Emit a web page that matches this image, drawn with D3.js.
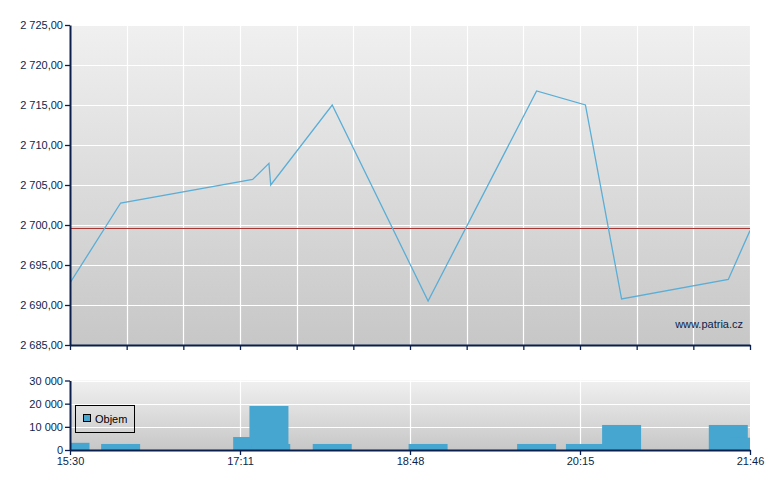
<!DOCTYPE html>
<html><head><meta charset="utf-8">
<script src="https://cdn.jsdelivr.net/npm/d3@7"></script>
<style>
body{margin:0;background:#fff;}
svg{display:block;font-family:Arial,"Liberation Sans",sans-serif;}
</style></head>
<body><svg id="c" width="780" height="490"></svg>
<script>
const times = ["15:30","15:58","17:11","17:20","17:21","17:55","18:48","19:48","20:15","20:35","21:34","21:46"];
const prices = [2692.75, 2702.75, 2705.7, 2707.7, 2705.0, 2715.0, 2690.5, 2716.75, 2715.0, 2690.75, 2693.2, 2699.3];
const volumes = [3100, 2600, 5600, 19000, 2600, 2600, 2600, 2600, 2600, 10800, 10800, 5300];
const refPrice = 2699.5;
const priceTicks = [2685,2690,2695,2700,2705,2710,2715,2720,2725];
const volumeTicks = [0,10000,20000,30000];
const xLabels = ["15:30","17:11","18:48","20:15","21:46"];
const xLabelSlots = [0,3,6,9,12];
const gridSlots = d3.range(0,13);

const toMin = s => { const [h,m] = s.split(":").map(Number); return h*60+m; };
const loc = d3.formatLocale({decimal:",", thousands:"\u00a0", grouping:[3], currency:["",""]});
const fPrice = loc.format(",.2f");
const fVol = loc.format(",d");

const svg = d3.select("#c");
const L = 70, R = 750;
const mainTop = 25, mainBot = 345, volTop = 380.5, volBot = 450;
const navy = "#0b1f4d";

const xT = d3.scaleLinear().domain([toMin(times[0]), toMin(times[times.length-1])]).range([L,R]);
const xG = d3.scaleLinear().domain([0,12]).range([L,R]);
const y = d3.scaleLinear().domain([2685,2725]).range([mainBot,mainTop]);
const yv = d3.scaleLinear().domain([0,30000]).range([volBot,volTop]);

const defs = svg.append("defs");
const g1 = defs.append("linearGradient").attr("id","bg").attr("x1",0).attr("y1",0).attr("x2",0).attr("y2",1);
g1.append("stop").attr("offset","0%").attr("stop-color","#f0f0f0");
g1.append("stop").attr("offset","100%").attr("stop-color","#c7c7c7");
defs.append("clipPath").attr("id","clipMain").append("rect").attr("x",L).attr("y",mainTop).attr("width",R-L).attr("height",mainBot-mainTop);
defs.append("clipPath").attr("id","clipVol").append("rect").attr("x",L).attr("y",volTop).attr("width",R-L).attr("height",volBot-volTop);

// ---------- Main panel ----------
svg.append("rect").attr("x",L).attr("y",mainTop).attr("width",R-L).attr("height",mainBot-mainTop).attr("fill","url(#bg)");
const gm = svg.append("g");
gm.selectAll(".hg").data(priceTicks.filter(v=>v>2685)).join("line")
  .attr("x1",L).attr("x2",R).attr("y1",d=>Math.round(y(d))+0.5).attr("y2",d=>Math.round(y(d))+0.5)
  .attr("stroke","#fff").attr("stroke-width",1.2);
gm.selectAll(".vg").data(gridSlots.slice(1)).join("line")
  .attr("y1",mainTop).attr("y2",mainBot).attr("x1",d=>Math.round(xG(d))+0.5).attr("x2",d=>Math.round(xG(d))+0.5)
  .attr("stroke","#fff").attr("stroke-width",1.2);

const yRef = Math.floor(y(refPrice)) + 0.5;
svg.append("line").attr("x1",L).attr("x2",R).attr("y1",yRef).attr("y2",yRef)
  .attr("stroke","#a83632").attr("stroke-width",1);

const pts = times.map((t,i)=>[toMin(t), prices[i]]);
svg.append("path").datum(pts).attr("clip-path","url(#clipMain)")
  .attr("d", d3.line().x(d=>xT(d[0])).y(d=>y(d[1])))
  .attr("fill","none").attr("stroke","#5aaed6").attr("stroke-width",1.3);

svg.append("text").attr("x",743).attr("y",328).attr("text-anchor","end")
  .attr("font-size",11).attr("fill",navy).text("www.patria.cz");

// axes main
const ay = svg.append("g").attr("transform",`translate(${L},0)`)
  .call(d3.axisLeft(y).tickValues(priceTicks).tickFormat(fPrice).tickSize(5).tickSizeOuter(0));
const ax = svg.append("g").attr("transform",`translate(0,${mainBot})`)
  .call(d3.axisBottom(xG).tickValues(gridSlots).tickFormat("").tickSize(5).tickSizeOuter(0));

// ---------- Volume panel ----------
svg.append("rect").attr("x",L).attr("y",volTop).attr("width",R-L).attr("height",volBot-volTop).attr("fill","url(#bg)");
svg.selectAll(".vhg").data(volumeTicks.filter(v=>v>0)).join("line")
  .attr("x1",L).attr("x2",R).attr("y1",d=>Math.round(yv(d))+0.5).attr("y2",d=>Math.round(yv(d))+0.5)
  .attr("stroke","#fff").attr("stroke-width",1.2);
svg.selectAll(".vvg").data(xLabelSlots.slice(1,-1)).join("line")
  .attr("y1",volTop).attr("y2",volBot).attr("x1",d=>Math.round(xG(d))+0.5).attr("x2",d=>Math.round(xG(d))+0.5)
  .attr("stroke","#fff").attr("stroke-width",1.2);

const barW = 39;
svg.append("g").attr("clip-path","url(#clipVol)")
  .selectAll("rect").data(times.map((t,i)=>({m:toMin(t), v:volumes[i]}))).join("rect")
  .attr("x",d=>xT(d.m)-barW/2).attr("width",barW)
  .attr("y",d=>yv(d.v)).attr("height",d=>volBot-yv(d.v))
  .attr("fill","#47a6cf");

// legend
const lg = svg.append("g");
lg.append("rect").attr("x",75.5).attr("y",405.5).attr("width",59).attr("height",27)
  .attr("fill","none").attr("stroke","#000").attr("stroke-width",1);
lg.append("rect").attr("x",83.5).attr("y",414.5).attr("width",7).attr("height",7)
  .attr("fill","#47a6cf").attr("stroke","#000").attr("stroke-width",1);
lg.append("text").attr("x",95).attr("y",423).attr("font-size",11).attr("fill","#000").text("Objem");

const avy = svg.append("g").attr("transform",`translate(${L},0)`)
  .call(d3.axisLeft(yv).tickValues(volumeTicks).tickFormat(fVol).tickSize(5).tickSizeOuter(0));
const avx = svg.append("g").attr("transform",`translate(0,${volBot})`)
  .call(d3.axisBottom(xG).tickValues(xLabelSlots).tickFormat((d,i)=>xLabels[i]).tickSize(5).tickSizeOuter(0));

[ay,ax,avy,avx].forEach(a=>{
  a.selectAll(".domain").attr("stroke",navy).attr("stroke-width",2);
  a.selectAll(".tick line").attr("stroke",navy).attr("stroke-width",1.3);
  a.selectAll(".tick text").attr("fill",navy).attr("font-size",11).attr("font-family","Arial, 'Liberation Sans', sans-serif");
});
ay.selectAll(".tick text").attr("x",-7);
avy.selectAll(".tick text").attr("x",-7);
avx.selectAll(".tick text").attr("y",7);
</script></body></html>
